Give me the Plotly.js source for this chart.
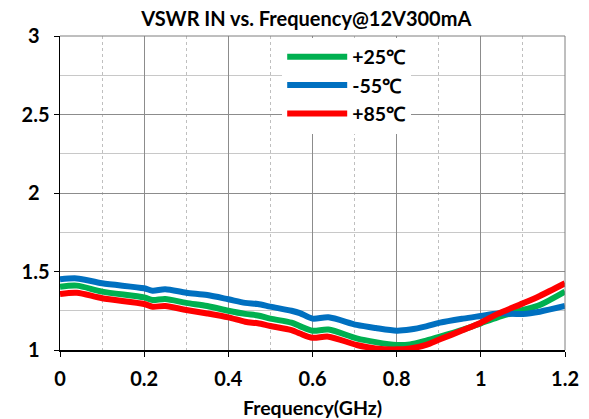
<!DOCTYPE html>
<html><head><meta charset="utf-8">
<script src="https://cdn.plot.ly/plotly-3.0.1.min.js"></script>
<style>html,body{margin:0;padding:0;background:#fff}#chart{width:589px;height:419px}</style>
</head><body><div id="chart"></div>
<script>
const freq = [0, 0.04, 0.1, 0.2, 0.22, 0.25, 0.3, 0.35, 0.4, 0.44, 0.47, 0.5, 0.55, 0.57, 0.6, 0.638, 0.705, 0.75, 0.8, 0.832, 0.87, 0.903, 0.958, 1.0, 1.04, 1.1, 1.14, 1.2];
const vswr25 = [1.403, 1.41, 1.372, 1.335, 1.318, 1.325, 1.30, 1.28, 1.25, 1.23, 1.22, 1.20, 1.174, 1.152, 1.123, 1.13, 1.074, 1.05, 1.032, 1.036, 1.06, 1.085, 1.13, 1.17, 1.208, 1.255, 1.287, 1.372];
const vswrM55 = [1.45, 1.456, 1.425, 1.393, 1.378, 1.387, 1.365, 1.35, 1.323, 1.30, 1.293, 1.276, 1.25, 1.235, 1.20, 1.208, 1.16, 1.14, 1.123, 1.13, 1.15, 1.174, 1.20, 1.217, 1.233, 1.23, 1.244, 1.28];
const vswr85 = [1.357, 1.365, 1.33, 1.293, 1.276, 1.28, 1.255, 1.233, 1.208, 1.18, 1.17, 1.153, 1.127, 1.105, 1.078, 1.085, 1.032, 1.01, 1.004, 1.01, 1.032, 1.068, 1.127, 1.174, 1.23, 1.297, 1.344, 1.425];
const names = ['+25℃', '-55℃', '+85℃'];
const colors = ['#00B050', '#0070C0', '#FF0000'];
const series = [vswr25, vswrM55, vswr85];
const yTickVals = [1, 1.5, 2, 2.5, 3];
const yTickText = ['1\u2002', '1.5', '2\u2002', '2.5', '3\u2002'];

const traces = series.map((s, i) => ({
  x: freq, y: s, name: names[i], type: 'scatter', mode: 'lines',
  line: {color: colors[i], width: 6, shape: 'spline', smoothing: 0.8}
}));

const font = 'Lato, "Liberation Sans", sans-serif';
const layout = {
  width: 589, height: 419,
  margin: {l: 60, r: 24, t: 36, b: 69},
  paper_bgcolor: '#fff', plot_bgcolor: '#fff',
  title: {text: '<b>VSWR IN vs. Frequency@12V300mA</b>', font: {family: font, size: 20, color: '#000'}, x: 0.52, xanchor: 'center', y: 0.955, yanchor: 'middle'},
  xaxis: {
    range: [0, 1.2], dtick: 0.2, tick0: 0,
    showline: true, linecolor: '#000', linewidth: 1.5, mirror: false,
    ticks: 'outside', ticklen: 5, tickcolor: '#000',
    ticklabelstandoff: 5,
    showgrid: true, gridcolor: '#8c8c8c', gridwidth: 1,
    minor: {dtick: 0.1, tick0: 0, showgrid: true, gridcolor: '#bfbfbf', griddash: 'dot', ticks: ''},
    zeroline: false,
    tickfont: {family: font, size: 20, color: '#000', weight: 'bold'},
    title: {text: '<b>Frequency(GHz)</b>', font: {family: font, size: 19.5, color: '#000'}, standoff: 13}
  },
  yaxis: {
    range: [1, 3], tickmode: 'array', tickvals: yTickVals, ticktext: yTickText,
    showline: true, linecolor: '#000', linewidth: 1.5,
    ticks: 'outside', ticklen: 5, tickcolor: '#000',
    showgrid: true, gridcolor: '#8c8c8c', gridwidth: 1,
    minor: {dtick: 0.25, tick0: 1, showgrid: true, gridcolor: '#c8c8c8', ticks: ''},
    zeroline: false,
    tickfont: {family: font, size: 20, color: '#000', weight: 'bold'}
  },
  shapes: [
    {type: 'line', xref: 'paper', yref: 'paper', x0: 0, x1: 1, y0: 1, y1: 1, line: {color: '#7f7f7f', width: 1}},
    {type: 'line', xref: 'paper', yref: 'paper', x0: 1, x1: 1, y0: 0, y1: 1, line: {color: '#7f7f7f', width: 1}}
  ],
  legend: {
    x: 0.44, y: 0.995, xanchor: 'left', yanchor: 'top',
    bgcolor: '#fff', borderwidth: 0, itemwidth: 60,
    font: {family: font, size: 19.5, color: '#000', weight: 'bold'},
    tracegroupgap: 0
  },
  showlegend: true
};
Plotly.newPlot('chart', traces, layout, {displayModeBar: false, staticPlot: true});
</script>
</body></html>
